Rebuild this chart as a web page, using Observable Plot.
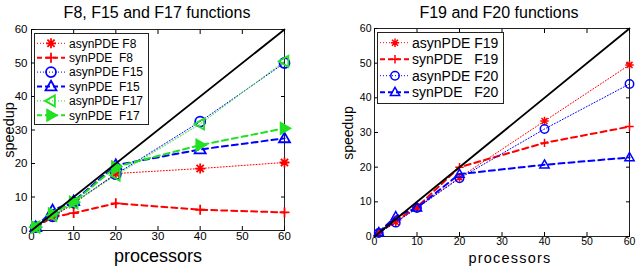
<!DOCTYPE html>
<html>
<head>
<meta charset="utf-8">
<script src="https://cdn.jsdelivr.net/npm/d3@7"></script>
<script src="https://cdn.jsdelivr.net/npm/@observablehq/plot@0.6"></script>
<style>
  body { margin: 0; background: #fff; }
  #fig { position: relative; width: 636px; height: 269px; overflow: hidden;
         font-family: "Liberation Sans", Arial, Helvetica, sans-serif; }
  .panel { position: absolute; top: 0; width: 318px; height: 269px; }
  #overlay { position: absolute; left: 0; top: 0; pointer-events: none; }
</style>
</head>
<body>
<div id="fig">
  <div class="panel" id="left" style="left:0"></div>
  <div class="panel" id="right" style="left:318px"></div>
</div>
<script>
// Processor counts used in every run
const procs = [1, 5, 10, 20, 40, 60];
// Ideal (linear) speedup line end points
const ideal = [0, 60];
const ticks = [0, 10, 20, 30, 40, 50, 60];

// Speedups, F8 / F15 / F17
const asynF8  = [1, 4.0, 8.0, 17.0, 18.5, 20.3];
const synF8   = [1, 4.0, 5.2, 8.1, 6.2, 5.4];
const asynF15 = [1, 4.2, 8.3, 16.8, 32.5, 50.0];
const synF15  = [1, 6.0, 8.7, 19.5, 24.2, 27.5];
const asynF17 = [1, 4.5, 8.2, 16.5, 31.8, 50.5];
const synF17  = [1, 5.0, 8.5, 19.0, 25.5, 30.5];

// Speedups, F19 / F20
const asynF19 = [1, 4.2, 8.3, 17.0, 33.3, 49.5];
const synF19  = [1, 4.5, 8.5, 20.0, 27.0, 31.7];
const asynF20 = [1, 4.0, 8.2, 16.8, 31.0, 44.0];
const synF20  = [1.2, 5.8, 8.3, 18.0, 20.7, 22.8];

const leftNames  = ["asynPDE F8", "synPDE  F8", "asynPDE F15", "synPDE  F15", "asynPDE F17", "synPDE  F17"];
const rightNames = ["asynPDE F19", "synPDE   F19", "asynPDE F20", "synPDE   F20"];

// MATLAB-like marker shapes (size is the area; radius = sqrt(size/PI))
const rad = (size) => Math.sqrt(size / Math.PI);
const star8 = { draw(ctx, size) { const r = rad(size), d = r * 0.72;
  ctx.moveTo(-r, 0); ctx.lineTo(r, 0); ctx.moveTo(0, -r); ctx.lineTo(0, r);
  ctx.moveTo(-d, -d); ctx.lineTo(d, d); ctx.moveTo(-d, d); ctx.lineTo(d, -d); } };
const plus = { draw(ctx, size) { const r = rad(size);
  ctx.moveTo(-r, 0); ctx.lineTo(r, 0); ctx.moveTo(0, -r); ctx.lineTo(0, r); } };
const ring = { draw(ctx, size) { const r = rad(size); ctx.moveTo(r, 0); ctx.arc(0, 0, r, 0, 2 * Math.PI); ctx.closePath(); } };
const triUp = { draw(ctx, size) { const r = rad(size) * 1.1;
  ctx.moveTo(0, -r * 1.05); ctx.lineTo(r, r * 0.7); ctx.lineTo(-r, r * 0.7); ctx.closePath(); } };
const triLeft = { draw(ctx, size) { const r = rad(size) * 1.1;
  ctx.moveTo(-r * 1.05, 0); ctx.lineTo(r * 0.7, -r); ctx.lineTo(r * 0.7, r); ctx.closePath(); } };
const triRight = { draw(ctx, size) { const r = rad(size) * 1.1;
  ctx.moveTo(r * 1.05, 0); ctx.lineTo(-r * 0.7, -r); ctx.lineTo(-r * 0.7, r); ctx.closePath(); } };

const RED = "#ff0000", BLUE = "#0000ff", GREEN = "#22e022";
const DOT = "1,2", DASH = "6,4";

const leftSeries = [
  { name: leftNames[0], values: asynF8,  color: RED,   dash: DOT,  lw: 1,   symbol: star8,    fill: "none" },
  { name: leftNames[1], values: synF8,   color: RED,   dash: DASH, lw: 2,   symbol: plus,     fill: "none" },
  { name: leftNames[2], values: asynF15, color: BLUE,  dash: DOT,  lw: 1,   symbol: ring,     fill: "none" },
  { name: leftNames[3], values: synF15,  color: BLUE,  dash: DASH, lw: 2,   symbol: triUp,    fill: "none" },
  { name: leftNames[4], values: asynF17, color: GREEN, dash: DOT,  lw: 1,   symbol: triLeft,  fill: "none" },
  { name: leftNames[5], values: synF17,  color: GREEN, dash: DASH, lw: 2,   symbol: triRight, fill: GREEN }
];
const rightSeries = [
  { name: rightNames[0], values: asynF19, color: RED,  dash: DOT,  lw: 1, symbol: star8, fill: "none" },
  { name: rightNames[1], values: synF19,  color: RED,  dash: DASH, lw: 2, symbol: plus,  fill: "none" },
  { name: rightNames[2], values: asynF20, color: BLUE, dash: DOT,  lw: 1, symbol: ring,  fill: "none" },
  { name: rightNames[3], values: synF20,  color: BLUE, dash: DASH, lw: 2, symbol: triUp, fill: "none" }
];

function speedupPanel(series, opt) {
  const marks = [
    Plot.frame({ stroke: "#222", strokeWidth: 1 }),
    Plot.axisX(ticks, { anchor: "bottom", tickSize: 0, tickPadding: opt.padX, fontSize: opt.tickFont, label: null }),
    Plot.axisX(ticks, { anchor: "bottom", tickSize: -4, tickFormat: () => "", label: null }),
    Plot.axisX(ticks, { anchor: "top", tickSize: -4, tickFormat: () => "", label: null }),
    Plot.axisY(ticks, { anchor: "left", tickSize: 0, tickPadding: opt.padY, fontSize: opt.tickFont, label: null }),
    Plot.axisY(ticks, { anchor: "left", tickSize: -4, tickFormat: () => "", label: null }),
    Plot.axisY(ticks, { anchor: "right", tickSize: -4, tickFormat: () => "", label: null })
  ];
  for (const s of series) {
    marks.push(Plot.line(procs, { x: d => d, y: (d, i) => s.values[i], stroke: s.color,
      strokeWidth: s.lw, strokeDasharray: s.dash }));
  }
  for (const s of series) {
    marks.push(Plot.dot(procs, { x: d => d, y: (d, i) => s.values[i], symbol: s.symbol, r: opt.r,
      stroke: s.color, fill: s.fill, strokeWidth: opt.markerWidth }));
  }
  marks.push(Plot.line(ideal, { x: d => d, y: d => d, stroke: "#000", strokeWidth: 1.8 }));
  return Plot.plot({
    width: 318, height: 269,
    marginLeft: opt.ml, marginRight: opt.mr, marginTop: opt.mt, marginBottom: opt.mb,
    x: { domain: [0, 60] },
    y: { domain: [0, 60] },
    style: { fontFamily: "Liberation Sans, Arial, sans-serif", color: "#000", background: "transparent", overflow: "visible" },
    marks
  });
}

document.getElementById("left").append(speedupPanel(leftSeries,
  { ml: 31, mr: 34, mt: 29, mb: 39, tickFont: 11.5, padX: 1, padY: 4, r: 5, markerWidth: 1.8 }));
document.getElementById("right").append(speedupPanel(rightSeries,
  { ml: 56, mr: 7, mt: 28, mb: 33, tickFont: 10.5, padX: 1, padY: 3, r: 4.2, markerWidth: 1.5 }));

// Titles, axis labels and legends
const svg = d3.select("#fig").append("svg").attr("id", "overlay")
  .attr("width", 636).attr("height", 269)
  .style("font-family", "Liberation Sans, Arial, sans-serif");

function label(x, y, text, size, rotate, spacing) {
  const t = svg.append("text").attr("text-anchor", "middle").attr("font-size", size).text(text);
  if (spacing) t.attr("letter-spacing", spacing);
  if (rotate) t.attr("transform", `translate(${x},${y}) rotate(-90)`);
  else t.attr("x", x).attr("y", y);
}
label(157, 18, "F8, F15 and F17 functions", 16);
label(499, 18, "F19 and F20 functions", 16);
label(158, 262, "processors", 18);
label(510, 263, "processors", 14.5, false, 1.2);
label(14, 130, "speedup", 14.5, true);
label(353, 133, "speedup", 14, true);

function legend(series, box, row) {
  const g = svg.append("g");
  g.append("rect").attr("x", box.x + 0.5).attr("y", box.y + 0.5).attr("width", box.w).attr("height", box.h)
    .attr("fill", "#fff").attr("stroke", "#222").attr("stroke-width", 1);
  series.forEach((s, i) => {
    const cy = row.y0 + i * row.dy;
    g.append("line").attr("x1", row.x1).attr("x2", row.x2).attr("y1", cy).attr("y2", cy)
      .attr("stroke", s.color).attr("stroke-width", s.lw).attr("stroke-dasharray", s.dash === DASH ? "5,3" : DOT);
    g.append("path").attr("transform", `translate(${row.xm},${cy})`)
      .attr("d", d3.symbol(s.symbol, row.r * row.r * Math.PI)())
      .attr("stroke", s.color).attr("fill", s.fill).attr("stroke-width", row.mw);
    g.append("text").attr("x", row.xt).attr("y", cy).attr("dy", "0.36em")
      .attr("font-size", row.font).attr("xml:space", "preserve").style("white-space", "pre").text(s.name);
  });
}
legend(leftSeries, { x: 34, y: 33, w: 114, h: 91 },
  { y0: 43.3, dy: 14.4, x1: 37, x2: 65, xm: 51, xt: 69, r: 5, mw: 1.8, font: 12 });
legend(rightSeries, { x: 377, y: 32, w: 126, h: 71 },
  { y0: 42.7, dy: 16.5, x1: 380, x2: 409, xm: 395, xt: 412, r: 4.2, mw: 1.5, font: 14 });
</script>
</body>
</html>
